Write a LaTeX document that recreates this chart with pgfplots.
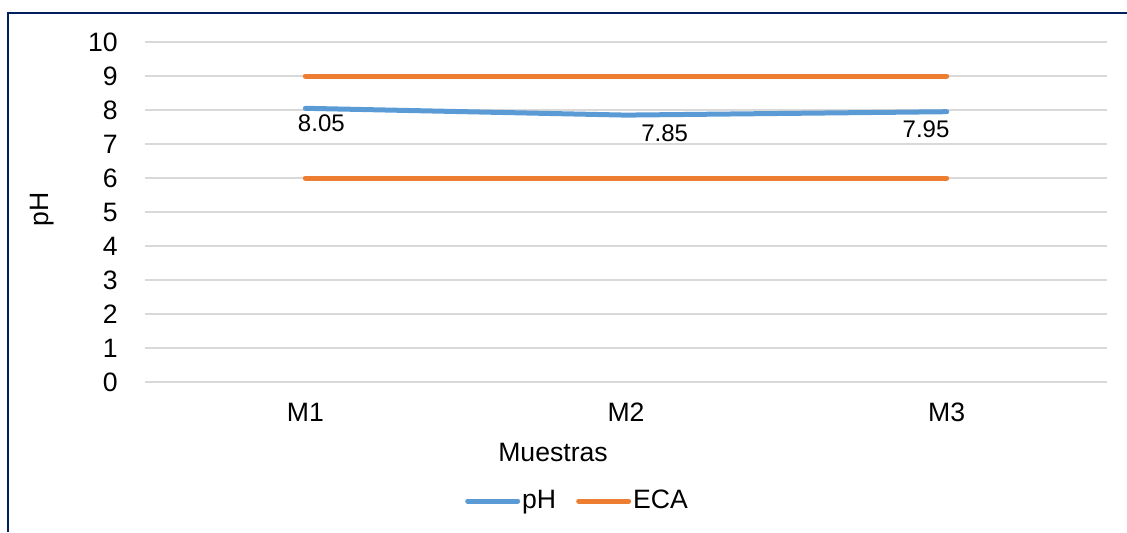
\documentclass[border=0pt]{standalone}
\usepackage{pgfplots}
\pgfplotsset{compat=1.18}
\usepackage{fontspec}
\setmainfont{Liberation Sans}

\definecolor{phblue}{HTML}{5B9BD5}
\definecolor{ecaorange}{HTML}{ED7D31}
\definecolor{gridgray}{HTML}{D9D9D9}
\definecolor{framenavy}{HTML}{002060}

\begin{document}
\begin{tikzpicture}
  \path[use as bounding box] (0pt,0pt) rectangle (563.5pt,266pt);
  % outer chart frame (left and top edges)
  \draw[framenavy, line width=1pt] (4.15pt,0pt) -- (4.15pt,259.5pt) -- (563.5pt,259.5pt);

  \begin{axis}[
    at={(72.5pt,75pt)}, anchor=south west,
    scale only axis,
    width=481pt, height=170pt,
    xmin=-0.5, xmax=2.5,
    ymin=0, ymax=10,
    xtick={0,1,2},
    xticklabels={M1,M2,M3},
    ytick={0,1,...,10},
    ymajorgrids=true,
    grid style={gridgray, line width=1pt},
    axis line style={draw=none},
    major tick length=0pt,
    /pgf/number format/assume math mode=true,
    tick label style={font=\fontsize{13.3}{15}\selectfont, inner sep=0pt},
    yticklabel style={anchor=east, xshift=-13.5pt},
    xticklabel style={anchor=north, yshift=-10.5pt},
    legend style={
      at={(0.4496,-0.35)}, anchor=center,
      draw=none, fill=none,
      legend columns=2,
      font=\fontsize{13.3}{15}\selectfont,
      /tikz/every even column/.append style={column sep=9pt},
      nodes={inner sep=1pt},
    },
    legend image code/.code={\draw[#1] (0pt,0pt) -- (25pt,0pt);},
  ]
    \addplot[phblue, line width=2.5pt, line cap=round, line join=round]
      coordinates {(0,8.05) (1,7.85) (2,7.95)};
    \addlegendentry{pH}
    \addplot[ecaorange, line width=2.5pt, line cap=round]
      coordinates {(0,9) (1,9) (2,9)};
    \addlegendentry{ECA}
    \addplot[ecaorange, line width=2.5pt, line cap=round, forget plot]
      coordinates {(0,6) (1,6) (2,6)};

    % value labels of the pH series
    \node[font=\fontsize{12}{14}\selectfont, inner sep=0pt, xshift=8pt, yshift=-7.6pt]
      at (axis cs:0,8.05) {8.05};
    \node[font=\fontsize{12}{14}\selectfont, inner sep=0pt, xshift=19.3pt, yshift=-9.2pt]
      at (axis cs:1,7.85) {7.85};
    \node[font=\fontsize{12}{14}\selectfont, inner sep=0pt, xshift=-10.3pt, yshift=-8.7pt]
      at (axis cs:2,7.95) {7.95};
  \end{axis}

  % axis titles
  \node[rotate=90, font=\fontsize{13.3}{15}\selectfont, inner sep=0pt] at (21pt,161.5pt) {pH};
  \node[font=\fontsize{13.3}{15}\selectfont, inner sep=0pt] at (276.5pt,40pt) {Muestras};
\end{tikzpicture}
\end{document}
